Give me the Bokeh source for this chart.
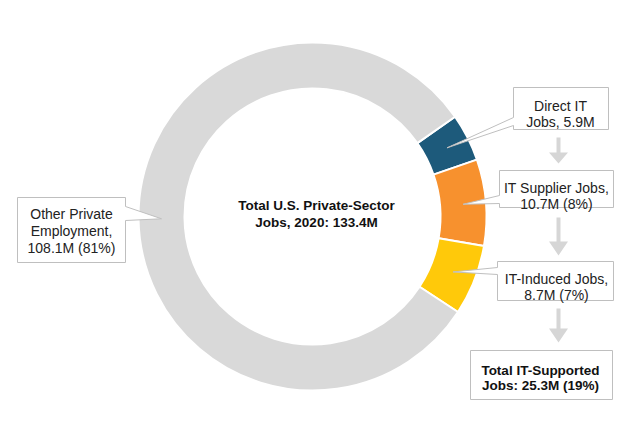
import math
import pandas as pd
from bokeh.plotting import figure
from bokeh.models import ColumnDataSource, Range1d
from bokeh.core.properties import value
from bokeh.embed import file_html
from bokeh.resources import INLINE

# ---- data ----
categories = ["Direct IT Jobs", "IT Supplier Jobs", "IT-Induced Jobs", "Other Private Employment"]
jobs_m = [5.9, 10.7, 8.7, 108.1]
colors = ["#1d5a7b", "#f7912e", "#ffc90a", "#d9d9d9"]
label_lines = [
    ["Direct IT", "Jobs, 5.9M"],
    ["IT Supplier Jobs,", "10.7M (8%)"],
    ["IT-Induced Jobs,", "8.7M (7%)"],
    ["Other Private", "Employment,", "108.1M (81%)"],
]
center_lines = ["Total U.S. Private-Sector", "Jobs, 2020: 133.4M"]
total_lines = ["Total IT-Supported", "Jobs: 25.3M (19%)"]

W, H = 624, 432
PH = 432  # data y = PH - image y


def Y(y):
    return PH - y


p = figure(width=W, height=H, output_backend="svg", toolbar_location=None,
           x_range=Range1d(0, 624), y_range=Range1d(0, 432),
           x_axis_type=None, y_axis_type=None, min_border=0)
p.outline_line_color = None
p.grid.visible = False
p.background_fill_color = "white"
p.border_fill_color = "white"

# ---- donut ----
CX, CY = 312, Y(216)
R_IN, R_OUT = 128, 174
START = 35.0  # degrees, slices run clockwise

df = pd.DataFrame({"cat": categories, "val": jobs_m, "color": colors})
df["deg"] = df["val"] / df["val"].sum() * 360.0
df["cum_end"] = df["deg"].cumsum()
df["cum_start"] = df["cum_end"] - df["deg"]
df["start_angle"] = (START - df["cum_start"]) * math.pi / 180
df["end_angle"] = (START - df["cum_end"]) * math.pi / 180
df["mid_deg"] = START - (df["cum_start"] + df["cum_end"]) / 2

p.annular_wedge(x=CX, y=CY, inner_radius=R_IN, outer_radius=R_OUT,
                start_angle="start_angle", end_angle="end_angle", direction="clock",
                fill_color="color", line_color="white", line_width=2,
                source=ColumnDataSource(df))

# ---- callouts ----
R_MID = 151
callouts = [
    dict(box=(513, 87, 608, 129), side="left", base=(117, 125)),
    dict(box=(499, 170, 613, 207), side="left", base=(195, 203)),
    dict(box=(497, 261, 613, 300), side="left", base=(267, 274)),
    dict(box=(17, 197, 125, 262), side="right", base=(206, 220)),
]
xs, ys = [], []
for i, c in enumerate(callouts):
    x0, y0, x1, y1 = c["box"]
    b1, b2 = c["base"]
    th = math.radians(df["mid_deg"].iloc[i])
    tx = CX + R_MID * math.cos(th)
    ty = CY + R_MID * math.sin(th)
    if c["side"] == "left":
        px = [x0, x1, x1, x0, x0, tx, x0]
        py = [Y(y0), Y(y0), Y(y1), Y(y1), Y(b2), ty, Y(b1)]
    else:
        px = [x0, x1, x1, tx, x1, x1, x0]
        py = [Y(y0), Y(y0), Y(b1), ty, Y(b2), Y(y1), Y(y1)]
    xs.append(px)
    ys.append(py)
p.patches(xs, ys, fill_color="white", line_color="#bfbfbf", line_width=1)

# total box
p.quad(left=470, right=612, top=Y(350), bottom=Y(399), fill_color="white",
       line_color="#bfbfbf", line_width=1)

# ---- arrows ----
AX = 558
arrows = [(137, 152, 163), (217, 241, 255), (308, 328, 342)]
axs, ays = [], []
for top, hstart, tip in arrows:
    axs.append([AX - 2, AX + 2, AX + 2, AX + 9.5, AX, AX - 9.5, AX - 2])
    ays.append([Y(top), Y(top), Y(hstart), Y(hstart), Y(tip), Y(hstart), Y(hstart)])
p.patches(axs, ays, fill_color="#d6d6d6", line_color=None)

# ---- texts ----
norm = dict(x=[], y=[], t=[])
bold = dict(x=[], y=[], t=[])
label_pos = [(560, [105, 121]), (556, [187, 203]), (556, [278, 294]), (71, [213, 230, 247])]
for lines, (lx, bls) in zip(label_lines, label_pos):
    for line, bl in zip(lines, bls):
        norm["x"].append(lx); norm["y"].append(Y(bl)); norm["t"].append(line)
for line, bl in zip(center_lines, [205, 222]):
    bold["x"].append(316); bold["y"].append(Y(bl)); bold["t"].append(line)
for line, bl in zip(total_lines, [370, 385]):
    bold["x"].append(540); bold["y"].append(Y(bl)); bold["t"].append(line)

p.text(x="x", y="y", text="t", source=ColumnDataSource(norm),
       text_font=value("Liberation Sans"), text_font_size=value("14px"),
       text_align="center", text_baseline="alphabetic", text_color="#222222")
p.text(x="x", y="y", text="t", source=ColumnDataSource(bold),
       text_font=value("Liberation Sans"), text_font_size=value("13.5px"),
       text_font_style="bold",
       text_align="center", text_baseline="alphabetic", text_color="#111111")

open("out.html", "w").write(file_html(p, INLINE))
